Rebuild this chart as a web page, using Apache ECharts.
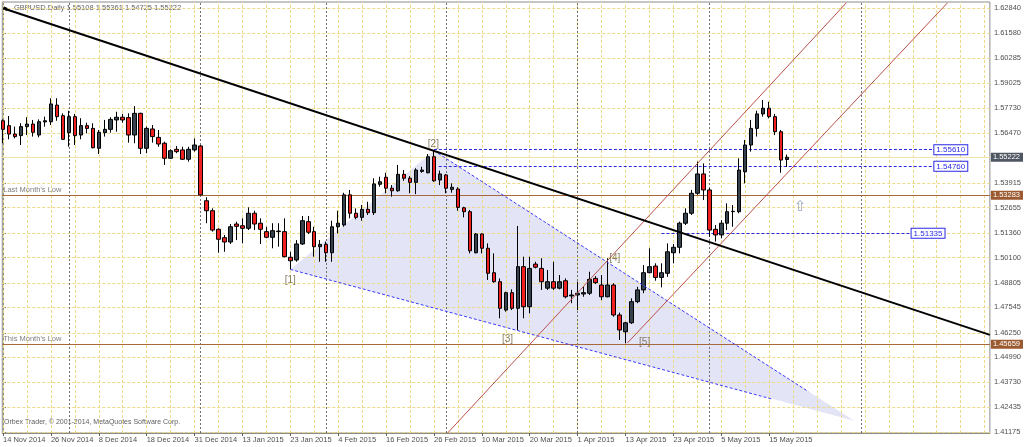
<!DOCTYPE html>
<html><head><meta charset="utf-8">
<script src="https://cdn.jsdelivr.net/npm/echarts@6/dist/echarts.min.js"></script>
<style>html,body{margin:0;padding:0;background:#fff}#c{width:1024px;height:447px}</style>
</head><body><div id="c"></div>
<script>
// ---- tick labels ----
const xTickIdx = [0,8,16,24,32,40,48,56,64,72,80,88,96,104,112,120,128];
const xTickLabels = ['14 Nov 2014','26 Nov 2014','8 Dec 2014','18 Dec 2014','31 Dec 2014','13 Jan 2015','23 Jan 2015','4 Feb 2015','16 Feb 2015','26 Feb 2015','10 Mar 2015','20 Mar 2015','1 Apr 2015','13 Apr 2015','23 Apr 2015','5 May 2015','15 May 2015'];
const yTicks = [1.41175,1.42435,1.43730,1.44990,1.46250,1.47545,1.48805,1.50100,1.51360,1.52655,1.53915,1.56470,1.57730,1.59025,1.60285,1.61580,1.62840];
const yGridExtra = [1.55200];
const monthSeparators = [11,33,54,74,96,118,143.33];

// ---- daily bars (index 0 = 14 Nov 2014) ----
const opens = [1.5709,1.5684,1.5641,1.5633,1.5679,1.5692,1.5636,1.5703,1.5704,1.5789,1.5735,1.5648,1.5730,1.5636,1.5684,1.5670,1.5568,1.5648,1.5665,1.5713,1.5727,1.5725,1.5636,1.5747,1.5568,1.5667,1.5624,1.5594,1.5517,1.5563,1.5560,1.5512,1.5560,1.5580,1.5300,1.5249,1.5154,1.5111,1.5089,1.5181,1.5172,1.5159,1.5236,1.5185,1.5142,1.5113,1.5142,1.5142,1.5011,1.4997,1.5079,1.5193,1.5142,1.5065,1.5077,1.5034,1.5167,1.5176,1.5330,1.5236,1.5215,1.5256,1.5239,1.5384,1.5420,1.5364,1.5351,1.5435,1.5415,1.5394,1.5450,1.5443,1.5525,1.5406,1.5432,1.5358,1.5360,1.5264,1.5244,1.5034,1.5130,1.5057,1.4932,1.4886,1.4741,1.4830,1.4750,1.4963,1.4758,1.4976,1.4954,1.4853,1.4886,1.4853,1.4891,1.4813,1.4818,1.4823,1.4827,1.4903,1.4869,1.4809,1.4869,1.4716,1.4630,1.4676,1.4784,1.4844,1.4932,1.4966,1.4908,1.4929,1.5034,1.5062,1.5185,1.5236,1.5338,1.5437,1.5355,1.5154,1.5125,1.5185,1.5244,1.5244,1.5448,1.5585,1.5670,1.5744,1.5773,1.5730,1.5653,1.55108];
const highs = [1.5716,1.5733,1.5679,1.5696,1.5727,1.5713,1.5716,1.5730,1.5824,1.5824,1.5747,1.5760,1.5744,1.5722,1.5699,1.5696,1.5662,1.5713,1.5727,1.5755,1.5744,1.5747,1.5784,1.5750,1.5679,1.5687,1.5662,1.5602,1.5563,1.5580,1.5576,1.5576,1.5619,1.5585,1.5318,1.5261,1.5159,1.5125,1.5181,1.5193,1.5210,1.5266,1.5249,1.5210,1.5167,1.5185,1.5185,1.5210,1.5039,1.5099,1.5222,1.5222,1.5167,1.5099,1.5091,1.5198,1.5249,1.5341,1.5355,1.5261,1.5278,1.5295,1.5415,1.5423,1.5443,1.5380,1.5483,1.5457,1.5426,1.5466,1.5474,1.5539,1.5556,1.5454,1.5437,1.5389,1.5369,1.5269,1.5253,1.5135,1.5133,1.5082,1.5031,1.4903,1.4835,1.4847,1.5171,1.5014,1.5014,1.4988,1.5006,1.4946,1.4988,1.4920,1.4903,1.4844,1.4886,1.4860,1.4937,1.4915,1.4920,1.5006,1.4878,1.4728,1.4681,1.4801,1.4860,1.4971,1.5057,1.4980,1.4980,1.5082,1.5079,1.5193,1.5261,1.5355,1.5500,1.5491,1.5365,1.5176,1.5201,1.5287,1.5278,1.5517,1.5611,1.5713,1.5760,1.5815,1.5806,1.5744,1.5662,1.55361];
const lows = [1.5594,1.5614,1.5619,1.5585,1.5636,1.5628,1.5624,1.5679,1.5687,1.5709,1.5611,1.5576,1.5585,1.5614,1.5645,1.5568,1.5539,1.5628,1.5648,1.5653,1.5699,1.5597,1.5594,1.5539,1.5543,1.5597,1.5576,1.5483,1.5515,1.5543,1.5508,1.5500,1.5551,1.5327,1.5185,1.5142,1.5034,1.5039,1.5079,1.5099,1.5082,1.5150,1.5150,1.5079,1.5108,1.5057,1.5065,1.5011,1.4949,1.4988,1.5074,1.5130,1.5014,1.4988,1.4988,1.4988,1.5133,1.5167,1.5210,1.5205,1.5198,1.5227,1.5227,1.5372,1.5338,1.5321,1.5346,1.5402,1.5338,1.5334,1.5443,1.5440,1.5397,1.5380,1.5338,1.5341,1.5249,1.5215,1.5031,1.5031,1.5031,1.4895,1.4881,1.4699,1.4733,1.4741,1.4639,1.4699,1.4724,1.4954,1.4844,1.4844,1.4844,1.4847,1.4801,1.4776,1.4741,1.4809,1.4818,1.4874,1.4792,1.4806,1.4707,1.4588,1.4571,1.4670,1.4776,1.4827,1.4929,1.4891,1.4857,1.4911,1.4980,1.5031,1.5176,1.5227,1.5330,1.5304,1.5116,1.5091,1.5108,1.5150,1.5167,1.5236,1.5389,1.5551,1.5628,1.5730,1.5721,1.5636,1.5443,1.54725];
const closes = [1.5665,1.5641,1.5628,1.5679,1.5692,1.5650,1.5704,1.5709,1.5795,1.5730,1.5614,1.5730,1.5633,1.5684,1.5670,1.5571,1.5650,1.5665,1.5716,1.5727,1.5713,1.5636,1.5747,1.5568,1.5670,1.5628,1.5590,1.5517,1.5556,1.5551,1.5512,1.5563,1.5585,1.5330,1.5249,1.5150,1.5103,1.5089,1.5167,1.5169,1.5159,1.5236,1.5181,1.5154,1.5113,1.5147,1.5145,1.5014,1.4993,1.5079,1.5198,1.5139,1.5065,1.5077,1.5034,1.5167,1.5185,1.5330,1.5236,1.5215,1.5256,1.5239,1.5386,1.5397,1.5364,1.5351,1.5435,1.5415,1.5394,1.5457,1.5457,1.5525,1.5402,1.5437,1.5364,1.5369,1.5266,1.5244,1.5044,1.5130,1.5057,1.4929,1.4886,1.4750,1.4830,1.4750,1.4963,1.4758,1.4954,1.4960,1.4886,1.4886,1.4853,1.4886,1.4809,1.4818,1.4827,1.4830,1.4898,1.4881,1.4809,1.4869,1.4716,1.4639,1.4676,1.4784,1.4844,1.4932,1.4963,1.4908,1.4932,1.5039,1.5062,1.5185,1.5236,1.5338,1.5437,1.5355,1.5150,1.5125,1.5185,1.5244,1.5246,1.5457,1.5585,1.5670,1.5744,1.5773,1.5730,1.5653,1.5508,1.55222];

// ---- drawn objects (bar index, price) ----
const blackTrend = [[0,1.6284],[164.88,1.4614]];
const channelUpper = [[74.3,1.4113],[140.9,1.6312]];
const channelLower = [[104.3,1.4572],[157.8,1.6312]];
const triangle = [[48,1.4949],[72,1.5556],[142.2,1.4175]];
const triEdgeUpper = [[72,1.5556],[134.55,1.4324]];
const triEdgeLower = [[48,1.4949],[128.6,1.4285]];
const lastMonthLow = 1.53283, thisMonthLow = 1.45659, bidPrice = 1.55222;
const blueLevels = [ {v:1.55610, from:72, to:155.6}, {v:1.54760, from:72.8, to:155.6}, {v:1.51335, from:110.0, to:151.8} ];
const waveLabels = ['[1]','[2]','[3]','[4]','[5]'];
const waveX = [48, 71.9, 84.3, 102.2, 107.2];
const waveY = [1.4895, 1.5590, 1.4591, 1.5006, 1.4576];
const arrowPoint = [133.2, 1.5269];

const XMIN = -0.12, XMAX = 164.88;
const FONT = 'Liberation Sans, Arial, sans-serif';
const candles = opens.map((o,i)=>[i, o, closes[i], lows[i], highs[i]]);
const gridCol = '#ecd98a';

const gridLines = [];
yTicks.concat(yGridExtra).forEach(v=>gridLines.push([{coord:[XMIN,v]},{coord:[XMAX,v]}]));
for (let i=0;i<=164;i+=4) gridLines.push({xAxis:i});
monthSeparators.forEach(v=>gridLines.push({xAxis:v, lineStyle:{color:'#707070', type:[2,2], width:1}}));

function seg(data, color, width, type, z){
  return {type:'line', data, showSymbol:false, symbol:'none', clip:true, silent:true, z,
    lineStyle:{color, width, type}, animation:false};
}
function hline(v, lineStyle, label){
  return [{coord:[XMIN,v], lineStyle, label}, {coord:[XMAX,v]}];
}
const boxLabel = (v,bg)=>({show:true, position:'end', formatter:v.toFixed(5), backgroundColor:bg, color:'#fff', padding:[1,3,0,2], fontSize:7.5, fontFamily:FONT, distance:1});
const noLine = {color:'rgba(0,0,0,0)', width:0};

const levelLines = [
  hline(bidPrice, {color:'#efe3a8', width:1, type:'solid'}, {show:false}),
  hline(lastMonthLow, {color:'#a8683e', width:1, type:'solid'},
    {show:true, position:'insideStartTop', formatter:"Last Month's Low", color:'#808080', fontSize:7.5, fontFamily:FONT, distance:1}),
  hline(thisMonthLow, {color:'#a8683e', width:1, type:'solid'},
    {show:true, position:'insideStartTop', formatter:"This Month's Low", color:'#808080', fontSize:7.5, fontFamily:FONT, distance:1}),
  hline(lastMonthLow, noLine, boxLabel(lastMonthLow,'#9c5a30')),
  hline(thisMonthLow, noLine, boxLabel(thisMonthLow,'#9c5a30')),
  hline(bidPrice, noLine, boxLabel(bidPrice,'#4f5862'))
];
blueLevels.forEach(l=>{
  levelLines.push([
    {coord:[l.from,l.v], lineStyle:{color:'#2a2ae6', width:1, type:[3,2]},
      label:{show:true, position:'end', formatter:l.v.toFixed(5), color:'#2a2ae6', backgroundColor:'#fff', borderColor:'#2a2ae6', borderWidth:1, padding:[1,2,0,2], fontSize:8, fontFamily:FONT, distance:0}},
    {coord:[l.to,l.v]}
  ]);
});

const chart = echarts.init(document.getElementById('c'), null, {renderer:'canvas'});
chart.setOption({
  animation:false,
  backgroundColor:'#fff',
  grid:{left:2, right:32, top:2, bottom:14, show:true, borderColor:'#8c8c8c', borderWidth:1, backgroundColor:'#fff'},
  xAxis:{type:'value', min:XMIN, max:XMAX,
    axisLine:{show:true, lineStyle:{color:'#8c8c8c'}},
    axisTick:{show:true, customValues:xTickIdx, length:3, lineStyle:{color:'#606060'}},
    axisLabel:{show:true, customValues:xTickIdx, formatter:v=>xTickLabels[xTickIdx.indexOf(Math.round(v))]||'', align:'left', margin:3, fontSize:7.5, color:'#505050', fontFamily:FONT},
    splitLine:{show:false}},
  yAxis:{type:'value', position:'right', min:1.41124, max:1.63162, scale:true,
    axisLine:{show:true, lineStyle:{color:'#8c8c8c'}},
    axisTick:{show:true, customValues:yTicks, length:3, lineStyle:{color:'#606060'}},
    axisLabel:{show:true, customValues:yTicks, formatter:v=>v.toFixed(5), margin:4, fontSize:7.5, color:'#505050', fontFamily:FONT},
    splitLine:{show:false}},
  graphic:[
    {type:'text', left:14, top:4, style:{text:'GBPUSD.Daily 1.55108 1.55361 1.54725 1.55222', fill:'#606060', font:'7.5px '+FONT}},
    {type:'polygon', shape:{points:[[3,6],[10,9],[6,11]]}, style:{fill:'#000'}},
    {type:'text', left:4, top:419, style:{text:'Orbex Trader, \u00a9 2001-2014, MetaQuotes Software Corp.', fill:'#606060', font:'7px '+FONT}}
  ],
  series:[
    {type:'line', data:[], z:1, silent:true, markLine:{silent:true, symbol:['none','none'], animation:false,
      label:{show:false}, lineStyle:{color:gridCol, type:[3,2], width:1}, data:gridLines}},
    {type:'custom', z:2, silent:true, clip:true, data:[[0,0]],
      renderItem:(params, api)=>({type:'polygon', shape:{points:triangle.map(p=>api.coord(p))}, style:{fill:'#e4e4f7'}})},
    {type:'line', data:[], z:3, silent:true, markLine:{silent:true, symbol:['none','none'], animation:false, data:levelLines}},
    {type:'candlestick', z:5, data:candles, encode:{x:0, y:[1,2,3,4]}, barWidth:4,
      itemStyle:{color:'#35414d', color0:'#f02020', borderColor:'#000', borderColor0:'#000', borderWidth:1}},
    seg(triEdgeUpper, '#3a3aff', 1, [3,2], 6),
    seg(triEdgeLower, '#3a3aff', 1, [3,2], 6),
    seg(channelUpper, '#b8504a', 1, 'solid', 7),
    seg(channelLower, '#b8504a', 1, 'solid', 7),
    seg(blackTrend, '#000', 2, 'solid', 8),
    {type:'scatter', z:9, silent:true, symbolSize:0,
      data:waveLabels.map((t,i)=>[waveX[i], waveY[i], t]),
      label:{show:true, position:'inside', formatter:p=>p.data[2], color:'#6a5c3c', fontSize:10, fontFamily:FONT}},
    {type:'scatter', z:9, silent:true, symbolSize:0, data:[arrowPoint],
      label:{show:true, position:'inside', formatter:'\u21e7', color:'#7f8fb0', fontSize:15, fontFamily:'DejaVu Sans'}}
  ]
});
</script></body></html>
